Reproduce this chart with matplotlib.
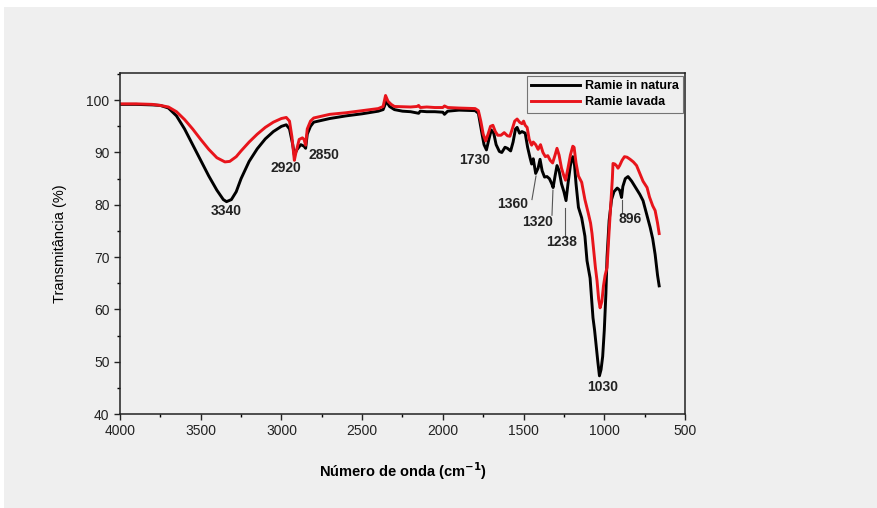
import numpy as np
import matplotlib.pyplot as plt
from matplotlib.patches import Rectangle
from matplotlib.ticker import MultipleLocator

# FTIR spectra (wavenumber in cm-1, transmittance in %)
wn_natura = [4000, 3900, 3800, 3750, 3700, 3650, 3600, 3550, 3500, 3450, 3400, 3360, 3340,
             3310, 3280, 3250, 3200, 3150, 3100, 3050, 3000, 2970, 2950, 2930, 2920, 2905,
             2880, 2860, 2850, 2840, 2820, 2800, 2700, 2600, 2500, 2400, 2370, 2350, 2330,
             2300, 2250, 2200, 2150, 2140, 2100, 2050, 2000, 1990, 1970, 1900, 1800, 1780,
             1760, 1745, 1730, 1715, 1700, 1685, 1670, 1650, 1635, 1615, 1600, 1580, 1565,
             1550, 1540, 1525, 1510, 1490, 1475, 1460, 1450, 1440, 1425, 1410, 1398, 1385,
             1370, 1355, 1340, 1325, 1317, 1305, 1293, 1280, 1265, 1250, 1237, 1225, 1210,
             1195, 1187, 1175, 1160, 1140, 1120, 1107, 1088, 1070, 1060, 1050, 1040, 1030,
             1020, 1010, 1000, 990, 983, 970, 955, 940, 920, 905, 893, 885, 870, 853, 830,
             800, 780, 760, 740, 716, 700, 685, 670, 660]
t_natura = [99.2, 99.2, 99.1, 99.0, 98.5, 97.0, 94.5, 91.5, 88.5, 85.5, 82.8, 81.0, 80.6,
            81.0, 82.5, 85.0, 88.3, 90.7, 92.6, 94.0, 95.0, 95.3, 94.5, 91.5, 89.5, 90.5,
            91.5, 91.2, 90.8, 93.5, 95.0, 95.8, 96.5, 97.0, 97.4, 97.9, 98.2, 99.8, 98.8,
            98.2, 97.9, 97.8, 97.5, 97.9, 97.8, 97.8, 97.7, 97.3, 97.9, 98.1, 98.0, 97.5,
            94.0, 91.5, 90.5, 92.5, 94.3, 93.7, 91.5, 90.2, 90.0, 91.0, 90.8, 90.3, 92.0,
            94.5, 94.8, 93.7, 94.0, 93.7, 91.0, 89.0, 87.8, 88.8, 86.0, 87.0, 88.7, 86.5,
            85.3, 85.4, 85.0, 84.0, 83.3, 85.5, 87.5, 86.5, 84.0, 82.5, 80.8, 84.0, 87.5,
            89.2, 88.6, 84.0, 79.5, 77.5, 74.0, 69.3, 66.0, 58.4, 56.0, 53.0, 50.0, 47.3,
            48.5, 51.0, 56.0, 63.0, 70.0, 77.0, 81.0, 82.5, 83.2, 82.8, 81.4, 83.5, 85.0,
            85.4, 84.5, 83.0, 82.0, 80.8, 78.5, 75.7, 73.5, 70.5, 66.5, 64.5]

wn_lavada = [4000, 3900, 3800, 3750, 3700, 3650, 3600, 3550, 3500, 3450, 3400, 3350, 3320,
             3280, 3250, 3200, 3150, 3100, 3050, 3000, 2970, 2950, 2935, 2920, 2910, 2890,
             2870, 2860, 2850, 2840, 2820, 2800, 2700, 2600, 2500, 2400, 2370, 2355, 2340,
             2320, 2300, 2200, 2160, 2150, 2140, 2100, 2050, 2000, 1990, 1970, 1900, 1800,
             1780, 1765, 1750, 1735, 1720, 1705, 1690, 1675, 1660, 1640, 1620, 1600, 1585,
             1570, 1555, 1540, 1525, 1510, 1500, 1490, 1478, 1465, 1450, 1440, 1425, 1410,
             1395, 1380, 1365, 1350, 1335, 1320, 1305, 1293, 1280, 1265, 1250, 1240, 1225,
             1210, 1195, 1187, 1175, 1160, 1140, 1120, 1100, 1085, 1076, 1065, 1055, 1045,
             1035, 1026, 1015, 1005, 995, 983, 970, 960, 950, 946, 935, 925, 915, 905, 890,
             875, 859, 840, 820, 800, 780, 760, 735, 720, 700, 685, 670, 660]
t_lavada = [99.3, 99.3, 99.2, 99.0, 98.7, 97.8, 96.3, 94.5, 92.5, 90.6, 89.0, 88.2, 88.3,
            89.2, 90.3, 92.0, 93.5, 94.8, 95.8, 96.5, 96.7, 96.0, 93.0, 88.5, 90.0, 92.5,
            92.8, 92.5, 91.4, 94.5, 96.0, 96.6, 97.3, 97.6, 98.0, 98.4, 98.8, 100.9, 99.8,
            99.2, 98.8, 98.7, 98.8, 99.0, 98.6, 98.7, 98.6, 98.6, 98.9, 98.6, 98.5, 98.4,
            98.0, 96.0, 93.5, 92.2, 93.5, 95.0, 95.2, 94.0, 93.3, 93.3, 93.8, 93.2, 93.1,
            94.5, 96.0, 96.4, 95.8, 95.5, 96.0, 95.2, 94.8, 92.5, 91.4, 92.0, 91.5, 90.6,
            91.5, 90.0, 89.2, 89.4, 88.5, 88.0, 89.5, 90.8, 89.5, 87.0, 85.5, 84.7, 87.0,
            89.5, 91.2, 91.0, 88.0, 85.5, 84.3, 81.0, 78.5, 76.5, 74.5, 71.0, 68.0, 65.5,
            62.0, 60.3, 61.5, 64.5, 66.5, 68.0, 75.0, 80.0, 85.0, 87.9, 87.8, 87.5, 87.0,
            87.5, 88.5, 89.2, 89.1, 88.7, 88.2, 87.5, 86.0, 84.5, 83.3, 81.5, 79.8, 78.9,
            76.5, 74.5]

# band labels and where they sit
peak_labels = ['3340', '2920', '2850', '1730', '1360', '1320', '1238', '896', '1030']
label_wn = [3343, 2970, 2739, 1801, 1565, 1411, 1262, 841, 1008]
label_t = [78.8, 87.0, 89.5, 88.5, 80.1, 76.7, 72.9, 77.3, 45.2]
# leader lines: (x top, y top, x bottom, y bottom)
leaders = [(1423, 85.5, 1448, 81.0), (1318, 82.8, 1324, 78.0),
           (1243, 79.4, 1243, 73.9), (890, 80.9, 890, 78.4)]

bg = '#efefef'
fig = plt.figure(figsize=(8.78, 5.08), dpi=100, facecolor='white')
fig.patches.append(Rectangle((4 / 878, 0), 1, 1 - 7 / 508, transform=fig.transFigure,
                             facecolor=bg, edgecolor='none', zorder=-10))
plt.rcParams['font.family'] = ['Liberation Sans', 'DejaVu Sans']

ax = fig.add_axes([120 / 878, 94 / 508, 565 / 878, 341 / 508])
ax.set_facecolor(bg)

ax.plot(wn_natura, t_natura, color='black', lw=2.1, label='Ramie in natura')
ax.plot(wn_lavada, t_lavada, color='#e8141b', lw=2.1, label='Ramie lavada')

ax.set_xlim(4000, 500)
ax.set_ylim(40, 105.2)
ax.xaxis.set_major_locator(MultipleLocator(500))
ax.xaxis.set_minor_locator(MultipleLocator(250))
ax.yaxis.set_major_locator(MultipleLocator(10))
ax.yaxis.set_minor_locator(MultipleLocator(5))
ax.tick_params(which='major', direction='out', length=4, width=1, labelsize=10,
               colors='#222222')
ax.tick_params(which='minor', direction='out', length=2.5, width=1)
for s in ax.spines.values():
    s.set_linewidth(1.1)
    s.set_color('#222222')

ax.set_xlabel('Número de onda (cm$^{\\mathbf{-1}}$)', fontsize=10.5, fontweight='bold',
              labelpad=16)
ax.set_ylabel('Transmitância (%)', fontsize=10.5, labelpad=14)

for lab, x, y in zip(peak_labels, label_wn, label_t):
    ax.text(x, y, lab, fontsize=10, fontweight='bold', color='#222222',
            ha='center', va='center')
for x0, y0, x1, y1 in leaders:
    ax.plot([x0, x1], [y0, y1], color='#555555', lw=0.8)

leg = ax.legend(loc='upper right', bbox_to_anchor=(0.997, 0.991), borderaxespad=0,
                handlelength=3.9, frameon=True, fancybox=False,
                borderpad=0.35, labelspacing=0.3, handletextpad=0.4,
                prop={'weight': 'bold', 'size': 9})
leg.get_frame().set_facecolor(bg)
leg.get_frame().set_edgecolor('#555555')
leg.get_frame().set_linewidth(0.8)

fig.savefig('out.png', dpi=100, facecolor=fig.get_facecolor())
